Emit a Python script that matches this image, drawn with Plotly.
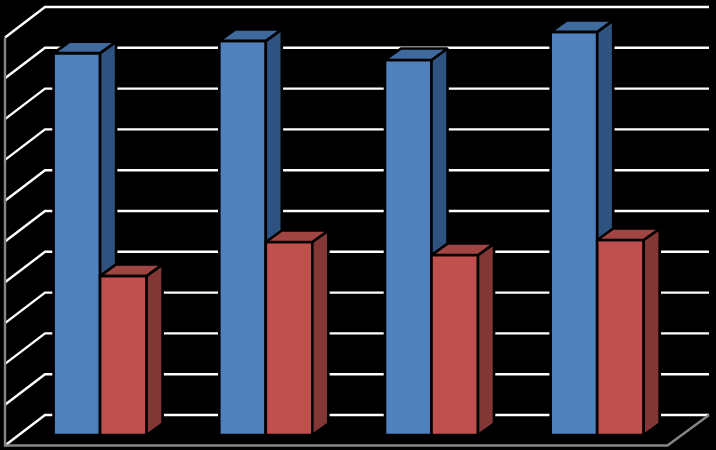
import plotly.graph_objects as go

categories = [0, 1, 2, 3]
blue_values = [9.36, 9.66, 9.19, 9.88]
red_values = [3.90, 4.73, 4.41, 4.78]
grid_levels = [0, 1, 2, 3, 4, 5, 6, 7, 8, 9, 10]

W, H = 716, 450
PITCH = 165.7      # px per category
UNIT = 40.8        # px per value unit
X0 = 100.1         # px of category 0 (centre of group)
Y0 = 435.0         # px of value 0, front plane of bars
BAR_W = 46.5 / PITCH
DX = 16.0 / PITCH  # bar depth offset
DY = 11.5 / UNIT


def ax(p):
    return (p - X0) / PITCH


def ay(p):
    return (Y0 - p) / UNIT


x_range = [ax(0), ax(W)]
y_range = [ay(H), ay(0)]
GRID_LIFT = ay(415)
WALL_L, WALL_R, FRONT_L, FRONT_R = ax(45), ax(709), ax(5), ax(667.5)
FLOOR_DROP = ay(445.5) - GRID_LIFT

fig = go.Figure()

# base plane: wall, floor and grid
grid_x, grid_y = [], []
for g in grid_levels:
    grid_x += [FRONT_L, WALL_L, WALL_R, None]
    grid_y += [g + GRID_LIFT + FLOOR_DROP, g + GRID_LIFT, g + GRID_LIFT, None]
fig.add_trace(go.Scatter(x=grid_x, y=grid_y, mode="lines",
                         line=dict(color="#ffffff", width=2.4), xaxis="x", yaxis="y",
                         hoverinfo="skip"))
top = grid_levels[-1] + GRID_LIFT + FLOOR_DROP
bottom = grid_levels[0] + GRID_LIFT + FLOOR_DROP
fig.add_trace(go.Scatter(x=[FRONT_L, FRONT_L, FRONT_R, WALL_R],
                         y=[top, bottom, bottom, GRID_LIFT], mode="lines",
                         line=dict(color="#868686", width=2.4), xaxis="x", yaxis="y",
                         hoverinfo="skip"))

OUTLINE = 2.6


def add_series(values, offset, front, side, roof, xa, ya):
    fig.add_trace(go.Bar(x=categories, y=values, width=BAR_W, offset=offset,
                         marker=dict(color=front, line=dict(color="#000000", width=OUTLINE)),
                         xaxis=xa, yaxis=ya))
    for c, v in zip(categories, values):
        l = c + offset
        r = l + BAR_W
        fig.add_trace(go.Scatter(x=[r, r + DX, r + DX, r, r], y=[0, DY, v + DY, v, 0],
                                 mode="lines", fill="toself", fillcolor=side,
                                 line=dict(color="#000000", width=OUTLINE), xaxis=xa, yaxis=ya,
                                 hoverinfo="skip"))
        fig.add_trace(go.Scatter(x=[l, l + DX, r + DX, r, l], y=[v, v + DY, v + DY, v, v],
                                 mode="lines", fill="toself", fillcolor=roof,
                                 line=dict(color="#000000", width=OUTLINE), xaxis=xa, yaxis=ya,
                                 hoverinfo="skip"))


add_series(blue_values, -BAR_W, "#4f81bd", "#2f5380", "#3f6a9e", "x2", "y2")
add_series(red_values, 0, "#c0504d", "#823735", "#a04542", "x3", "y3")

axis = dict(range=x_range, visible=False, fixedrange=True)
yaxis = dict(range=y_range, visible=False, fixedrange=True)
fig.update_layout(
    width=W, height=H, margin=dict(l=0, r=0, t=0, b=0),
    paper_bgcolor="#000000", plot_bgcolor="#000000", showlegend=False,
    barmode="overlay",
    xaxis=axis, yaxis=yaxis,
    xaxis2=dict(axis, overlaying="x"), yaxis2=dict(yaxis, overlaying="y"),
    xaxis3=dict(axis, overlaying="x"), yaxis3=dict(yaxis, overlaying="y"),
)
fig.write_html("out.html", config={"displayModeBar": False},
               post_script="document.body.style.margin='0';document.body.style.background='#000';")
